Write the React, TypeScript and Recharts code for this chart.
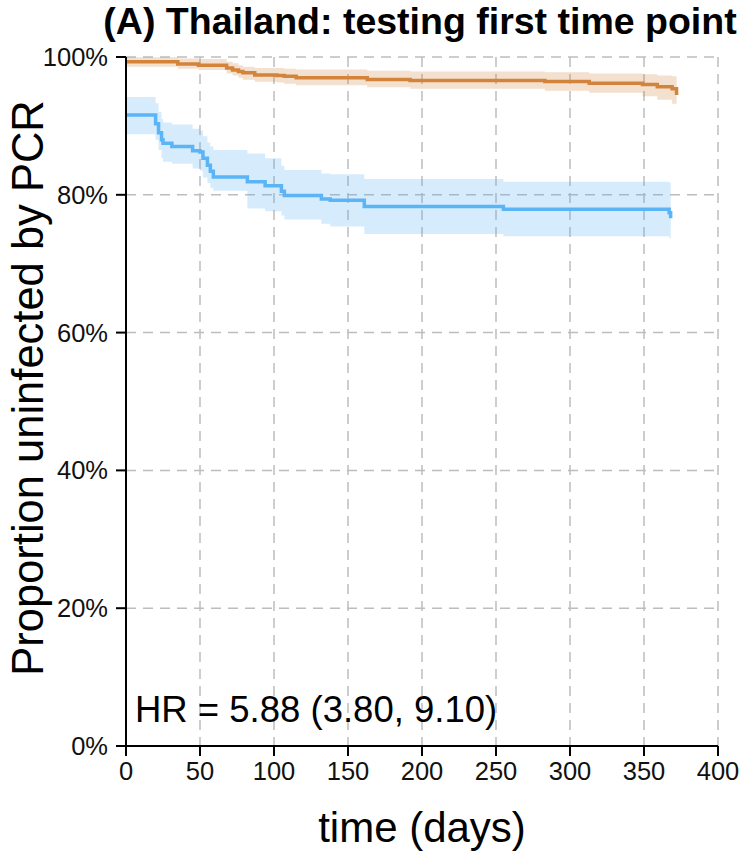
import React from 'react';
import {
  ComposedChart,
  Line,
  Area,
  XAxis,
  YAxis,
  CartesianGrid
} from 'recharts';

// orange group (upper curve)
const orangeTime = [0, 35, 49, 68, 72, 76, 79, 87, 102, 107, 115, 163, 192, 283, 313, 349, 359, 369, 372];
const orangeSurv = [99.3, 99.0, 98.8, 98.4, 98.1, 97.9, 97.7, 97.4, 97.3, 97.2, 97.0, 96.75, 96.6, 96.45, 96.2, 96.0, 95.7, 95.4, 94.5];
const orangeLower = [98.6, 98.3, 98.1, 97.6, 97.3, 97.0, 96.7, 96.4, 96.3, 96.1, 95.9, 95.6, 95.4, 95.1, 94.8, 94.3, 93.8, 93.2, 91.8];
const orangeUpper = [99.95, 99.8, 99.7, 99.3, 99.1, 98.8, 98.6, 98.4, 98.4, 98.3, 98.2, 98.0, 97.9, 97.8, 97.6, 97.5, 97.3, 97.2, 97.1];

// blue group (lower curve)
const blueTime = [0, 20, 22, 24, 25, 31, 45, 50, 52, 55, 57, 59, 82, 94, 105, 107, 132, 138, 161, 255, 367, 368];
const blueSurv = [91.6, 90.3, 89.0, 88.0, 87.5, 87.0, 86.4, 86.2, 85.3, 84.3, 83.4, 82.6, 81.9, 81.3, 80.5, 79.9, 79.4, 79.2, 78.3, 77.9, 77.4, 76.6];
const blueLower = [88.8, 88.0, 86.5, 85.3, 84.8, 84.5, 83.8, 83.5, 82.5, 81.7, 81.0, 80.6, 78.0, 77.6, 77.0, 76.4, 75.8, 75.4, 74.3, 74.0, 73.7, 73.2];
const blueUpper = [94.2, 93.3, 92.0, 91.0, 90.5, 90.2, 89.6, 89.3, 88.5, 87.6, 87.0, 86.5, 86.0, 85.3, 84.2, 83.6, 83.1, 83.0, 82.3, 81.9, 81.8, 81.7];

const xTicks = [0, 50, 100, 150, 200, 250, 300, 350, 400];
const yTicks = [0, 20, 40, 60, 80, 100];

const titleText = '(A) Thailand: testing first time point';
const yLabelText = 'Proportion uninfected by PCR';
const xLabelText = 'time (days)';
const hrText = 'HR = 5.88 (3.80, 9.10)';

const ORANGE = '#D2843C';
const BLUE = '#5AB4F5';
const FONT = '"Liberation Sans", Arial, Helvetica, sans-serif';

const build = (t: number[], s: number[], lo: number[], hi: number[]) =>
  t.map((v, i) => ({ t: v, s: s[i], band: [lo[i], hi[i]] }));

const orangeData = build(orangeTime, orangeSurv, orangeLower, orangeUpper);
const blueData = build(blueTime, blueSurv, blueLower, blueUpper);

const W = 743;
const H = 854;

export default function App() {
  return (
    <div style={{ position: 'absolute', left: 0, top: 0, width: W, height: H, background: '#fff' }}>
      <ComposedChart
        width={W}
        height={H}
        margin={{ top: 57, right: 25, bottom: 48, left: 26 }}
      >
        <CartesianGrid stroke="#bdbdbd" strokeDasharray="10 7" strokeWidth={1.5} />
        <XAxis
          type="number"
          dataKey="t"
          domain={[0, 400]}
          ticks={xTicks}
          height={60}
          allowDataOverflow
          stroke="#000"
          strokeWidth={2}
          tickSize={10}
          tickMargin={6}
          tick={{ fill: '#111', fontSize: 25.5, fontFamily: FONT }}
          tickLine={{ stroke: '#000', strokeWidth: 2 }}
        />
        <YAxis
          type="number"
          domain={[0, 100]}
          ticks={yTicks}
          width={100}
          stroke="#000"
          strokeWidth={2}
          tickSize={10}
          tickMargin={8}
          tickFormatter={(v: number) => `${v}%`}
          tick={{ fill: '#111', fontSize: 25.5, fontFamily: FONT }}
          tickLine={{ stroke: '#000', strokeWidth: 2 }}
        />
        <Area
          data={orangeData}
          dataKey="band"
          type="stepAfter"
          stroke="none"
          fill={ORANGE}
          fillOpacity={0.25}
          isAnimationActive={false}
        />
        <Area
          data={blueData}
          dataKey="band"
          type="stepAfter"
          stroke="none"
          fill={BLUE}
          fillOpacity={0.25}
          isAnimationActive={false}
        />
        <Line
          data={orangeData}
          dataKey="s"
          type="stepAfter"
          stroke={ORANGE}
          strokeWidth={3.5}
          dot={false}
          isAnimationActive={false}
        />
        <Line
          data={blueData}
          dataKey="s"
          type="stepAfter"
          stroke={BLUE}
          strokeWidth={3.5}
          dot={false}
          isAnimationActive={false}
        />
      </ComposedChart>
      <svg
        width={W}
        height={H}
        style={{ position: 'absolute', left: 0, top: 0, pointerEvents: 'none' }}
      >
        <text x={420} y={34} textAnchor="middle" fontFamily={FONT} fontWeight="bold" fontSize={37.5} fill="#000">
          {titleText}
        </text>
        <text
          x={0}
          y={0}
          transform="translate(43 388) rotate(-90)"
          textAnchor="middle"
          fontFamily={FONT}
          fontSize={43.5}
          fill="#000"
        >
          {yLabelText}
        </text>
        <text x={422} y={842} textAnchor="middle" fontFamily={FONT} fontSize={42} fill="#000">
          {xLabelText}
        </text>
        <text x={135} y={722} fontFamily={FONT} fontSize={36.5} fill="#000">
          {hrText}
        </text>
      </svg>
    </div>
  );
}
